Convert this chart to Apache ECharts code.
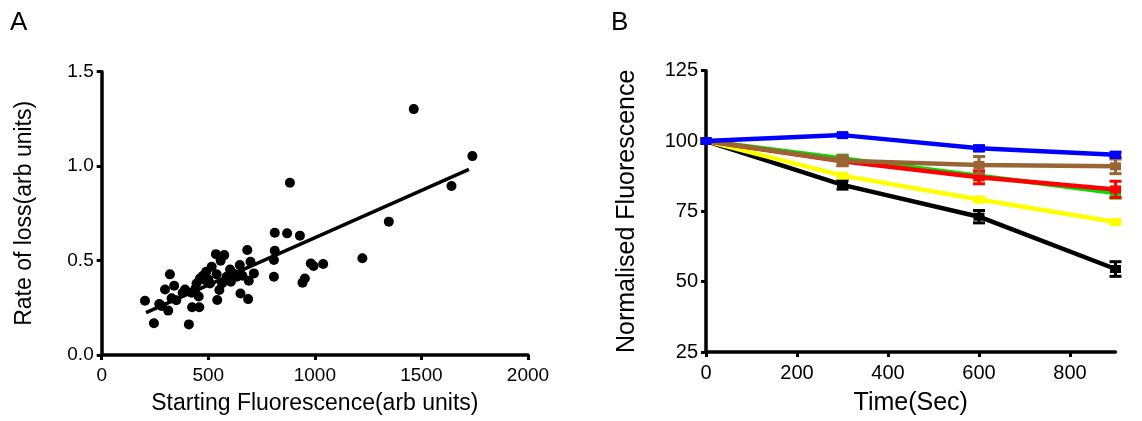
<!DOCTYPE html>
<html>
<head>
<meta charset="utf-8">
<script src="https://cdn.jsdelivr.net/npm/echarts@6/dist/echarts.min.js"></script>
<style>
html,body{margin:0;padding:0;background:#fff;}
#chart{width:1142px;height:421px;}
</style>
</head>
<body>
<div id="chart"></div>
<script>
// ---------- Panel A data ----------
const startFluor = [203,245,297,320,340,281,312,328,391,409,424,458,422,445,461,490,516,536,575,558,539,552,542,508,484,602,606,586,648,683,698,714,690,651,687,633,812,870,930,812,808,808,942,953,981,994,1039,883,1223,1347,1464,1641,1739,380,440,475,500,565,620,660,455,350,270];
const rateLoss   = [0.287,0.168,0.347,0.427,0.367,0.26,0.235,0.30,0.347,0.162,0.253,0.253,0.33,0.379,0.405,0.441,0.467,0.534,0.529,0.499,0.427,0.344,0.291,0.379,0.397,0.453,0.388,0.414,0.476,0.556,0.494,0.432,0.393,0.326,0.296,0.414,0.647,0.644,0.632,0.552,0.503,0.414,0.383,0.405,0.485,0.471,0.482,0.912,0.512,0.706,1.302,0.895,1.053,0.33,0.35,0.42,0.40,0.38,0.43,0.42,0.31,0.29,0.27];
const fitLineX = [208, 1723];
const fitLineY = [0.224, 0.983];
const xTicksA = [0, 500, 1000, 1500, 2000];
const yTicksA = [0, 0.5, 1.0, 1.5];

// ---------- Panel B data ----------
const timeSec = [0, 300, 600, 900];
const blackVals  = [100, 84.4, 73.1, 54.5];
const yellowVals = [100, 87.7, 79.2, 71.2];
const greenVals  = [100, 93.8, 87.7, 81.5];
const redVals    = [100, 92.8, 87.1, 82.8];
const brownVals  = [100, 93.0, 91.5, 91.0];
const blueVals   = [100, 102.1, 97.4, 95.1];
const blackErr  = [0, 1.5, 2.2, 2.6];
const yellowErr = [0, 0.6, 0.8, 0.8];
const greenErr  = [0, 1.2, 1.5, 1.8];
const redErr    = [0, 1.5, 2.3, 2.9];
const brownErr  = [0, 1.8, 3.0, 2.6];
const blueErr   = [0, 0.6, 0.9, 0.9];
const xTicksB = [0, 200, 400, 600, 800];
const yTicksB = [25, 50, 75, 100, 125];

const FONT = '"Liberation Sans", Arial, Helvetica, sans-serif';

const chart = echarts.init(document.getElementById('chart'), null, {renderer: 'canvas'});

function axisCommon() {
  return {
    axisLine: {show: true, onZero: false, lineStyle: {color: '#000', width: 3.5}},
    axisTick: {show: true, inside: false, length: 5, lineStyle: {color: '#000', width: 3}},
    splitLine: {show: false},
    axisLabel: {color: '#000', fontFamily: FONT, fontSize: 19, margin: 8},
    nameTextStyle: {color: '#000', fontFamily: FONT, fontSize: 23},
    nameLocation: 'middle'
  };
}

const groups = [
  {name: 'black', color: '#000000', vals: blackVals, err: blackErr},
  {name: 'yellow', color: '#ffff00', vals: yellowVals, err: yellowErr},
  {name: 'green', color: '#00e000', vals: greenVals, err: greenErr},
  {name: 'red', color: '#ff0000', vals: redVals, err: redErr},
  {name: 'brown', color: '#996633', vals: brownVals, err: brownErr},
  {name: 'blue', color: '#0000ff', vals: blueVals, err: blueErr}
];

const seriesB = [];
groups.forEach((g, gi) => {
  const pts = timeSec.map((t, i) => [t, g.vals[i]]);
  seriesB.push({
    type: 'line', xAxisIndex: 1, yAxisIndex: 1,
    data: pts, symbol: 'rect', symbolSize: [11, 8],
    itemStyle: {color: g.color, opacity: 1}, lineStyle: {color: g.color, width: 4.5},
    z: 10 + gi * 2, animation: false, clip: false
  });
  const errPts = timeSec.map((t, i) => [t, g.vals[i], g.err[i]]);
  seriesB.push({
    type: 'custom', xAxisIndex: 1, yAxisIndex: 1,
    data: errPts, z: 11 + gi * 2, animation: false, clip: false,
    renderItem: function (params, api) {
      const x = api.value(0), y = api.value(1), e = api.value(2);
      if (!e) return null;
      const top = api.coord([x, y + e]);
      const bot = api.coord([x, y - e]);
      const hw = 6;
      const st = {stroke: g.color, lineWidth: 3};
      return {
        type: 'group',
        children: [
          {type: 'line', shape: {x1: top[0], y1: top[1], x2: bot[0], y2: bot[1]}, style: st},
          {type: 'line', shape: {x1: top[0] - hw, y1: top[1], x2: top[0] + hw, y2: top[1]}, style: st},
          {type: 'line', shape: {x1: bot[0] - hw, y1: bot[1], x2: bot[0] + hw, y2: bot[1]}, style: st}
        ]
      };
    }
  });
});

const option = {
  backgroundColor: '#fff',
  animation: false,
  graphic: [
    {type: 'text', left: 10, top: 10, style: {text: 'A', font: '26px ' + FONT, fill: '#000'}},
    {type: 'text', left: 611, top: 10, style: {text: 'B', font: '26px ' + FONT, fill: '#000'}}
  ],
  grid: [
    {left: 101.7, top: 71.7, width: 426.3, height: 283.3, containLabel: false},
    {left: 706, top: 70.7, width: 409.5, height: 284.3, containLabel: false}
  ],
  xAxis: [
    Object.assign(axisCommon(), {
      gridIndex: 0, type: 'value', min: 0, max: 2000, interval: 500,
      name: 'Starting Fluorescence(arb units)', nameGap: 37,
      axisLabel: Object.assign(axisCommon().axisLabel, {customValues: xTicksA, margin: 11, formatter: v => String(v)}),
      axisTick: Object.assign(axisCommon().axisTick, {customValues: xTicksA})
    }),
    Object.assign(axisCommon(), {
      gridIndex: 1, type: 'value', min: 0, max: 900, interval: 200,
      name: 'Time(Sec)', nameGap: 39,
      nameTextStyle: {color: '#000', fontFamily: FONT, fontSize: 25},
      axisLabel: Object.assign(axisCommon().axisLabel, {fontSize: 20, margin: 11, customValues: xTicksB, formatter: v => String(v)}),
      axisTick: Object.assign(axisCommon().axisTick, {customValues: xTicksB})
    })
  ],
  yAxis: [
    Object.assign(axisCommon(), {
      gridIndex: 0, type: 'value', min: 0, max: 1.5, interval: 0.5,
      name: 'Rate of loss(arb units)', nameGap: 66,
      axisLabel: Object.assign(axisCommon().axisLabel, {
        customValues: yTicksA, formatter: v => v.toFixed(1)
      }),
      axisTick: Object.assign(axisCommon().axisTick, {customValues: yTicksA})
    }),
    Object.assign(axisCommon(), {
      gridIndex: 1, type: 'value', min: 25, max: 125, interval: 25,
      name: 'Normalised Fluorescence', nameGap: 66,
      nameTextStyle: {color: '#000', fontFamily: FONT, fontSize: 25},
      axisLabel: Object.assign(axisCommon().axisLabel, {fontSize: 20, customValues: yTicksB}),
      axisTick: Object.assign(axisCommon().axisTick, {customValues: yTicksB})
    })
  ],
  series: [
    {
      type: 'scatter', xAxisIndex: 0, yAxisIndex: 0,
      data: startFluor.map((x, i) => [x, rateLoss[i]]),
      symbol: 'circle', symbolSize: 10, itemStyle: {color: '#000', opacity: 1}, z: 5
    },
    {
      type: 'line', xAxisIndex: 0, yAxisIndex: 0,
      data: fitLineX.map((x, i) => [x, fitLineY[i]]),
      showSymbol: false, symbol: 'none', lineStyle: {color: '#000', width: 3.5}, z: 6
    }
  ].concat(seriesB)
};
chart.setOption(option);
</script>
</body>
</html>
